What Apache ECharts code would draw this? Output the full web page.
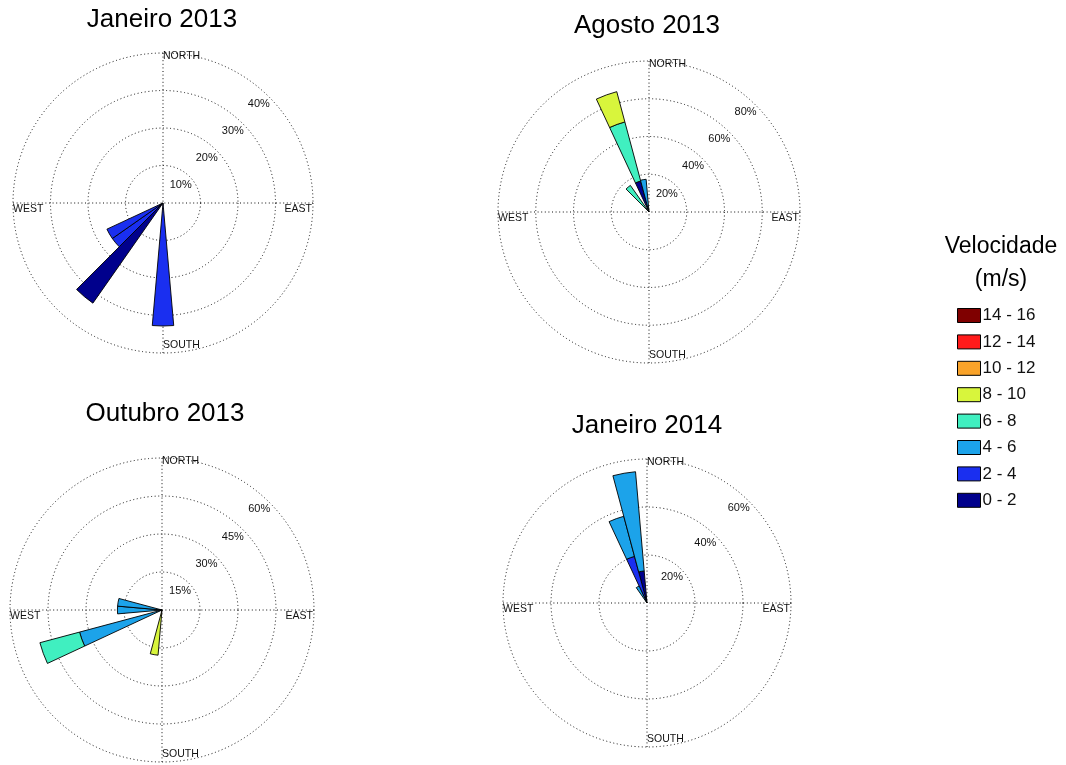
<!DOCTYPE html>
<html>
<head>
<meta charset="utf-8">
<script src="https://cdn.jsdelivr.net/npm/echarts@6/dist/echarts.min.js"></script>
<style>
  html, body { margin: 0; padding: 0; background: #ffffff; }
  #chart { width: 1066px; height: 765px; }
</style>
</head>
<body>
<div id="chart"></div>
<script>
// ---------------- DATA ----------------
const directions = ['0','10','20','30','40','50','60','70','80','90','100','110','120','130','140','150','160','170',
                    '180','190','200','210','220','230','240','250','260','270','280','290','300','310','320','330','340','350'];
const speedBins = ['0 - 2', '2 - 4', '4 - 6', '6 - 8', '8 - 10', '10 - 12', '12 - 14', '14 - 16'];
const binColors = ['#00008c', '#1a2ff0', '#1ca3ea', '#40efc0', '#d8f53c', '#f9a32a', '#ff1a1a', '#7f0000'];

const titles = ['Janeiro 2013', 'Agosto 2013', 'Outubro 2013', 'Janeiro 2014'];

// [direction (deg), speed bin, frequency %]
const jan2013 = [[180, '2 - 4', 32.8], [220, '0 - 2', 32.6], [230, '2 - 4', 16.5], [240, '2 - 4', 16.5]];
const ago2013 = [[320, '6 - 8', 17.2], [340, '0 - 2', 17.0], [340, '6 - 8', 32.4], [340, '8 - 10', 16.6], [350, '4 - 6', 17.4]];
const out2013 = [[190, '8 - 10', 17.9], [250, '4 - 6', 33.7], [250, '6 - 8', 16.2], [270, '4 - 6', 17.6], [280, '4 - 6', 17.6]];
const jan2014 = [[330, '4 - 6', 7.8], [340, '2 - 4', 20.1], [340, '4 - 6', 17.3], [350, '0 - 2', 13.4], [350, '4 - 6', 41.5]];

// radial ring ticks (%)
const ticksJan2013 = [10, 20, 30, 40];
const ticksAgo2013 = [20, 40, 60, 80];
const ticksOut2013 = [15, 30, 45, 60];
const ticksJan2014 = [20, 40, 60];

const compassLabels = ['NORTH', 'EAST', 'SOUTH', 'WEST'];
const legendTitle = ['Velocidade', '(m/s)'];

// ---------------- LAYOUT ----------------
const roses = [
  { data: jan2013, ticks: ticksJan2013, cx: 163, cy: 203, r: 150, tx: 162, ty: 20 },
  { data: ago2013, ticks: ticksAgo2013, cx: 649, cy: 212, r: 151, tx: 647, ty: 26 },
  { data: out2013, ticks: ticksOut2013, cx: 162, cy: 610, r: 152, tx: 165, ty: 414 },
  { data: jan2014, ticks: ticksJan2014, cx: 647, cy: 603, r: 144, tx: 647, ty: 426 }
];

const FONT = '"Liberation Sans", Arial, Helvetica, sans-serif';
const dotted = { type: [1, 2.6], color: '#111111', width: 1 };

const polar = [], angleAxis = [], radiusAxis = [], series = [], graphic = [];

roses.forEach((rs, k) => {
  const max = rs.ticks[rs.ticks.length - 1];
  const gi = 2 * k, bi = 2 * k + 1;
  polar.push({ center: [rs.cx, rs.cy], radius: rs.r });
  polar.push({ center: [rs.cx, rs.cy], radius: rs.r });

  // grid polar (rings + compass cross)
  angleAxis.push({
    polarIndex: gi, type: 'value', min: 0, max: 360, interval: 90, startAngle: 90, clockwise: true,
    axisLine: { show: false }, axisTick: { show: false }, axisLabel: { show: false },
    splitLine: { show: true, lineStyle: dotted }
  });
  radiusAxis.push({
    polarIndex: gi, type: 'value', min: 0, max: max, interval: rs.ticks[0],
    axisLine: { show: false }, axisTick: { show: false }, axisLabel: { show: false },
    splitLine: { show: true, lineStyle: dotted }
  });

  // bar polar
  angleAxis.push({
    polarIndex: bi, type: 'category', data: directions, startAngle: 95, clockwise: true,
    boundaryGap: true,
    axisLine: { show: false }, axisTick: { show: false }, axisLabel: { show: false }, splitLine: { show: false }
  });
  radiusAxis.push({
    polarIndex: bi, type: 'value', min: 0, max: max, show: false,
    axisLine: { show: false }, axisTick: { show: false }, axisLabel: { show: false }, splitLine: { show: false }
  });

  speedBins.forEach((b, j) => {
    const vals = directions.map(d => {
      const hit = rs.data.find(e => String(e[0]) === d && e[1] === b);
      return hit ? hit[2] : null;
    });
    series.push({
      type: 'bar', name: b, coordinateSystem: 'polar', polarIndex: bi, stack: 'rose' + k,
      data: vals, barCategoryGap: '0%', barGap: '0%',
      itemStyle: { color: binColors[j], borderColor: '#000000', borderWidth: 0.9 },
      z: 3
    });
  });

  // title
  graphic.push({ type: 'text', x: rs.tx, y: rs.ty, z: 10,
    style: { text: titles[k], font: '26px ' + FONT, fill: '#000', align: 'center', verticalAlign: 'middle' } });

  // compass labels
  const cf = '10.5px ' + FONT;
  graphic.push({ type: 'text', x: rs.cx, y: rs.cy - rs.r - 2, z: 10,
    style: { text: compassLabels[0], font: cf, fill: '#111', align: 'left', verticalAlign: 'top' } });
  graphic.push({ type: 'text', x: rs.cx + rs.r - 1, y: rs.cy + 1, z: 10,
    style: { text: compassLabels[1], font: cf, fill: '#111', align: 'right', verticalAlign: 'top' } });
  graphic.push({ type: 'text', x: rs.cx, y: rs.cy + rs.r - 2, z: 10,
    style: { text: compassLabels[2], font: cf, fill: '#111', align: 'left', verticalAlign: 'bottom' } });
  graphic.push({ type: 'text', x: rs.cx - rs.r, y: rs.cy + 1, z: 10,
    style: { text: compassLabels[3], font: cf, fill: '#111', align: 'left', verticalAlign: 'top' } });

  // percentage ring labels
  const ang = 44 * Math.PI / 180;
  rs.ticks.forEach(t => {
    const rr = rs.r * t / max - 12;
    graphic.push({ type: 'text', x: rs.cx + rr * Math.sin(ang), y: rs.cy - rr * Math.cos(ang), z: 10,
      style: { text: t + '%', font: '11px ' + FONT, fill: '#111', align: 'center', verticalAlign: 'middle' } });
  });
});

// legend title
graphic.push({ type: 'text', x: 1001, y: 247, z: 10,
  style: { text: legendTitle[0], font: '23px ' + FONT, fill: '#000', align: 'center', verticalAlign: 'middle' } });
graphic.push({ type: 'text', x: 1001, y: 280, z: 10,
  style: { text: legendTitle[1], font: '23px ' + FONT, fill: '#000', align: 'center', verticalAlign: 'middle' } });

const chart = echarts.init(document.getElementById('chart'), null, { renderer: 'canvas' });
chart.setOption({
  backgroundColor: '#ffffff',
  animation: false,
  polar, angleAxis, radiusAxis, series, graphic,
  legend: {
    data: speedBins.slice().reverse(),
    orient: 'vertical', left: 957, top: 307, padding: 0,
    itemWidth: 23, itemHeight: 14, itemGap: 9.4,
    icon: 'rect',
    selectedMode: false,
    itemStyle: { borderColor: '#000000', borderWidth: 1 },
    textStyle: { fontSize: 17, fontFamily: FONT, color: '#111', lineHeight: 14, padding: [0, 0, 0, -3] }
  }
});
</script>
</body>
</html>
